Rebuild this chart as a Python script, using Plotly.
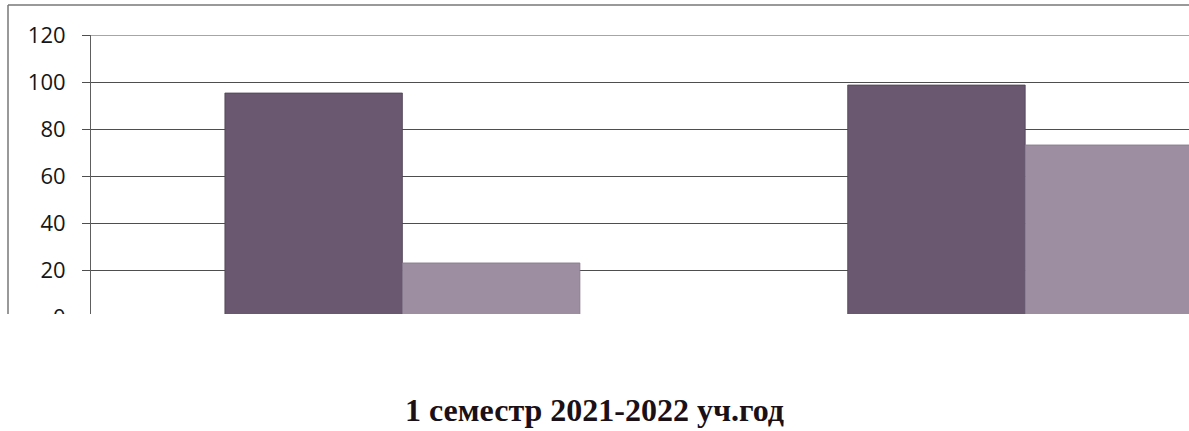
import plotly.graph_objects as go

categories = ["Группа 1", "Группа 2"]
series_a = [95.3, 98.7]
series_b = [23.0, 73.2]
y_ticks = [0, 20, 40, 60, 80, 100, 120]
title_text = "1 семестр 2021-2022 уч.год"

fig = go.Figure()
fig.add_trace(go.Bar(x=categories, y=series_a, marker=dict(color="#6a5870", line=dict(color="#4f4255", width=0.8)), showlegend=False))
fig.add_trace(go.Bar(x=categories, y=series_b, marker=dict(color="#9d8ea2", line=dict(color="#85778a", width=0.8)), showlegend=False))

W, H = 1189, 431
L, R, T, B = 91, 0, 35, 114
pw, ph = W - L - R, H - T - B

def px(x):
    return (x - L) / pw

def py(y):
    return (H - B - y) / ph

fig.update_layout(
    width=W, height=H,
    margin=dict(l=L, r=R, t=T, b=B),
    paper_bgcolor="white", plot_bgcolor="white",
    barmode="group", bargap=0.43, bargroupgap=0,
    title=dict(text="<b>" + title_text + "</b>", x=0.5, xref="container", xanchor="center",
               y=(H - 410) / H, yref="container", yanchor="middle",
               font=dict(family="Liberation Serif", size=32, color="#1a1016")),
    xaxis=dict(range=[-0.5, 1.263], showticklabels=False, showgrid=False, zeroline=False,
               showline=False, ticks=""),
    yaxis=dict(range=[0, 120], tickvals=y_ticks, showgrid=True, gridcolor="#4e4e4e", gridwidth=1,
               zeroline=False, showline=True, linecolor="#5e5e5e", linewidth=1,
               ticks="outside", ticklen=8, tickcolor="#4e4e4e", ticklabelstandoff=12,
               tickfont=dict(family="Open Sans", size=22, color="#161616")),
    shapes=[
        dict(type="line", xref="paper", yref="y", x0=0, x1=1, y0=y_ticks[-1], y1=y_ticks[-1],
             line=dict(color="#4e4e4e", width=1), layer="below"),
        dict(type="rect", xref="paper", yref="paper", x0=-0.2, x1=1.01, y0=-0.18, y1=py(314),
             fillcolor="white", line=dict(width=0), layer="above"),
        dict(type="line", xref="paper", yref="paper", x0=px(8), x1=1.01, y0=py(5), y1=py(5),
             line=dict(color="#777777", width=1.5), layer="above"),
        dict(type="line", xref="paper", yref="paper", x0=px(8), x1=px(8), y0=py(5), y1=py(314),
             line=dict(color="#777777", width=1.5), layer="above"),
    ],
)

fig.write_html("out.html", config={"displayModeBar": False},
               post_script="document.body.style.margin='0';document.body.style.overflow='hidden';")
